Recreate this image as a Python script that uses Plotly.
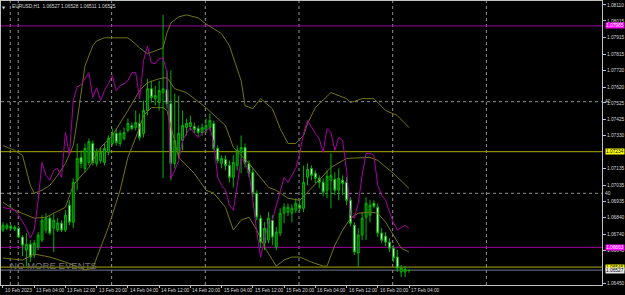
import plotly.graph_objects as go

# ---------------- data ----------------
bar_index = list(range(105))  # 10 Feb 20:00 ... 17 Feb 04:00, H1 bars

opens = [1.06766,1.06777,1.06789,1.06771,1.06777,1.06724,1.06647,1.06682,1.06617,1.06664,
         1.06706,1.06766,1.06837,1.06777,1.06766,1.06807,1.06766,1.06914,1.06813,1.07063,
         1.07200,1.07134,1.07170,1.07283,1.07164,1.07182,1.07170,1.07230,1.07283,1.07343,
         1.07283,1.07313,1.07361,1.07390,1.07378,1.07402,1.07343,1.07480,1.07610,1.07551,
         1.07527,1.07587,1.07604,1.07521,1.07164,1.07224,1.07301,1.07378,1.07384,1.07384,
         1.07372,1.07349,1.07361,1.07378,1.07402,1.07253,1.07164,1.07188,1.07152,1.07081,
         1.07152,1.07230,1.07259,1.07164,1.07111,1.06986,1.06837,1.06688,1.06706,1.06825,
         1.06664,1.06748,1.06867,1.06873,1.06867,1.06885,1.06914,1.06896,1.07081,1.07134,
         1.07105,1.07075,1.07051,1.07004,1.07063,1.07069,1.07004,1.07063,1.07051,1.06944,
         1.06795,1.06629,1.06736,1.06843,1.06855,1.06926,1.06902,1.06748,1.06730,1.06694,
         1.06658,1.06605,1.06516,1.06516,1.06527]
highs = [1.06813,1.06807,1.06801,1.06795,1.06789,1.06736,1.06748,1.06706,1.06706,1.06754,
         1.06855,1.06867,1.06855,1.06861,1.06837,1.06825,1.06885,1.06944,1.07075,1.07283,
         1.07242,1.07283,1.07313,1.07301,1.07253,1.07259,1.07283,1.07331,1.07372,1.07372,
         1.07361,1.07378,1.07432,1.07408,1.07480,1.07462,1.07539,1.07670,1.07658,1.07628,
         1.07658,1.08051,1.07718,1.07718,1.07581,1.07569,1.07480,1.07432,1.07450,1.07408,
         1.07390,1.07402,1.07432,1.07462,1.07420,1.07271,1.07212,1.07212,1.07182,1.07212,
         1.07271,1.07331,1.07283,1.07182,1.07134,1.07004,1.06855,1.06813,1.06873,1.06855,
         1.06783,1.06896,1.06926,1.06926,1.06920,1.06956,1.06944,1.07152,1.07164,1.07152,
         1.07123,1.07093,1.07075,1.07123,1.07224,1.07111,1.07134,1.07093,1.07081,1.06962,
         1.06813,1.06777,1.06873,1.06962,1.06944,1.06944,1.06926,1.06777,1.06754,1.06718,
         1.06676,1.06647,1.06557,1.06551,1.06528]
lows = [1.06754,1.06766,1.06766,1.06760,1.06718,1.06611,1.06551,1.06575,1.06599,1.06647,
        1.06694,1.06748,1.06736,1.06635,1.06754,1.06754,1.06754,1.06795,1.06777,1.07004,
        1.07134,1.07111,1.07152,1.07152,1.07146,1.07164,1.07152,1.07212,1.07271,1.07271,
        1.07265,1.07301,1.07349,1.07361,1.07361,1.07301,1.07319,1.07450,1.07527,1.07509,
        1.07480,1.07075,1.07491,1.07063,1.07134,1.07194,1.07242,1.07331,1.07361,1.07343,
        1.07325,1.07331,1.07343,1.07361,1.07242,1.07164,1.07134,1.07123,1.07051,1.07021,
        1.07123,1.07105,1.07140,1.07081,1.06962,1.06825,1.06658,1.06647,1.06688,1.06676,
        1.06647,1.06730,1.06807,1.06849,1.06813,1.06867,1.06873,1.06873,1.07033,1.07063,
        1.07045,1.07015,1.06968,1.06956,1.06896,1.06974,1.06944,1.06974,1.06914,1.06789,
        1.06617,1.06545,1.06706,1.06706,1.06813,1.06896,1.06724,1.06688,1.06670,1.06635,
        1.06575,1.06516,1.06486,1.06486,1.06511]
closes = [1.06795,1.06795,1.06777,1.06783,1.06724,1.06676,1.06682,1.06605,1.06688,1.06736,
          1.06825,1.06837,1.06748,1.06825,1.06807,1.06766,1.06855,1.06813,1.07051,1.07194,
          1.07164,1.07253,1.07295,1.07170,1.07236,1.07230,1.07253,1.07313,1.07343,1.07289,
          1.07343,1.07349,1.07402,1.07372,1.07408,1.07319,1.07480,1.07610,1.07557,1.07569,
          1.07599,1.07610,1.07521,1.07164,1.07301,1.07343,1.07390,1.07402,1.07408,1.07366,
          1.07349,1.07378,1.07390,1.07420,1.07253,1.07182,1.07194,1.07152,1.07081,1.07170,
          1.07242,1.07259,1.07164,1.07105,1.06986,1.06843,1.06694,1.06777,1.06837,1.06724,
          1.06754,1.06867,1.06902,1.06902,1.06896,1.06926,1.06896,1.07051,1.07128,1.07093,
          1.07075,1.07051,1.06992,1.07087,1.07093,1.07004,1.07075,1.07045,1.06944,1.06807,
          1.06635,1.06736,1.06837,1.06926,1.06914,1.06908,1.06748,1.06706,1.06694,1.06658,
          1.06599,1.06539,1.06539,1.06533,1.06525]

# magenta indicator line, one value per bar
magenta_line = [1.06902,1.06896,1.06890,1.06885,1.06855,1.06813,1.06777,1.06718,1.06766,1.06944,
                1.07170,1.07093,1.07063,1.07123,1.07134,1.07081,1.07349,1.07212,1.07539,1.07622,
                1.07634,1.07670,1.07706,1.07557,1.07616,1.07539,1.07599,1.07640,1.07688,1.07599,
                1.07628,1.07640,1.07658,1.07706,1.07706,1.07551,1.07777,1.07866,1.07765,1.07759,
                1.07789,1.07795,1.07706,1.07075,1.07123,1.07182,1.07301,1.07343,1.07378,1.07343,
                1.07319,1.07343,1.07361,1.07378,1.07283,1.07081,1.07033,1.07004,1.06914,1.06885,
                1.07033,1.07194,1.07170,1.07111,1.06944,1.06754,1.06605,1.06706,1.06813,1.06825,
                1.06914,1.07004,1.07081,1.07051,1.07093,1.07134,1.07224,1.07343,1.07420,1.07378,
                1.07343,1.07313,1.07230,1.07372,1.07349,1.07242,1.07319,1.07301,1.07123,1.06855,
                1.06837,1.06926,1.07093,1.07224,1.07224,1.07212,1.07033,1.06974,1.06944,1.06873,
                1.06813,1.06766,1.06783,1.06795,1.06777]

# Bollinger bands (vertices)
bb_upper_idx = [0,3,5,7,8,10,12,14,16,18,19,20,21,23,24,26,29,32,33,35,37,40,41,42,43,45,47,50,52,54,
                56,58,59,61,62,64,66,69,70,71,73,75,77,78,80,84,88,89,92,95,98,101,104]
bb_upper = [1.07271,1.07242,1.07212,1.07033,1.06986,1.07004,1.07033,1.07093,1.07164,1.07271,
            1.07420,1.07599,1.07747,1.07866,1.07896,1.07914,1.07914,1.07914,1.07896,1.07854,
            1.07819,1.07848,1.07854,1.07944,1.08003,1.08039,1.08051,1.08033,1.07997,1.07968,
            1.07938,1.07866,1.07795,1.07658,1.07509,1.07491,1.07551,1.07491,1.07432,1.07372,
            1.07283,1.07283,1.07331,1.07402,1.07497,1.07587,1.07551,1.07527,1.07551,1.07551,
            1.07480,1.07450,1.07378]
bb_mid_idx = [0,3,8,11,16,18,19,22,25,28,32,35,37,40,42,44,47,52,55,57,59,63,68,70,73,76,78,81,84,88,
              94,96,100,104]
bb_mid = [1.06932,1.06885,1.06837,1.06843,1.06902,1.07033,1.07063,1.07140,1.07259,1.07331,
          1.07480,1.07599,1.07646,1.07670,1.07676,1.07610,1.07587,1.07497,1.07432,1.07390,
          1.07259,1.07164,1.07021,1.07004,1.06956,1.06944,1.06992,1.07063,1.07140,1.07194,
          1.07200,1.07182,1.07105,1.07015]
bb_lower_idx = [0,5,8,12,16,21,23,24,27,30,32,35,36,38,41,42,45,49,52,54,57,59,61,63,65,67,70,72,74,76,
                79,82,83,85,87,89,91,94,96,98,100,102,104]
bb_lower = [1.06599,1.06587,1.06623,1.06605,1.06575,1.06528,1.06539,1.06599,1.06783,1.07004,
            1.07200,1.07378,1.07450,1.07497,1.07497,1.07480,1.07200,1.07105,1.07004,1.06986,
            1.06902,1.06766,1.06825,1.06843,1.06766,1.06664,1.06551,1.06587,1.06605,1.06605,
            1.06575,1.06551,1.06551,1.06676,1.06766,1.06837,1.06867,1.06873,1.06867,1.06813,
            1.06736,1.06658,1.06635]

# horizontal levels
magenta_levels = [1.07985, 1.06663]
yellow_levels = [1.07234, 1.06545]
bid_price = 1.06527

# axis labels
price_ticks = [1.08110,1.08015,1.07915,1.07815,1.07720,1.07620,1.07525,1.07425,1.07330,
               1.07135,1.07035,1.06935,1.06840,1.06740,1.06645,1.06450]
time_tick_idx = [0,8,16,24,32,40,48,56,64,72,80,88,96,104]
time_tick_text = ["10 Feb 2023","13 Feb 04:00","13 Feb 12:00","13 Feb 20:00","14 Feb 04:00",
                  "14 Feb 12:00","14 Feb 20:00","15 Feb 04:00","15 Feb 12:00","15 Feb 20:00",
                  "16 Feb 04:00","16 Feb 12:00","16 Feb 20:00","17 Feb 04:00"]
title_text = "EURUSD,H1  1.06527 1.06528 1.06511 1.06525"

# ---------------- layout constants ----------------
PX_PER_BAR = 3.917
X0 = -2 / PX_PER_BAR
X1 = X0 + 603 / PX_PER_BAR
Y_TOP = 1.081338
Y_BOT = 1.064381
FONT = "Liberation Sans"
SMALL = 4.8

fig = go.Figure()

# grid (dotted)
for px in [9.3, 17.3, 111, 205, 299, 393, 487]:
    fig.add_shape(type="line", xref="x", yref="paper",
                  x0=(px - 2) / PX_PER_BAR, x1=(px - 2) / PX_PER_BAR, y0=0, y1=1,
                  line=dict(color="rgba(180,180,180,0.8)", width=1, dash="dot"), layer="below")
for py in [101, 193]:
    yy = Y_TOP - py * (Y_TOP - Y_BOT) / 285
    fig.add_shape(type="line", xref="paper", yref="y", x0=0, x1=1, y0=yy, y1=yy,
                  line=dict(color="rgba(180,180,180,0.8)", width=1, dash="dot"), layer="below")

# horizontal levels
for lv in magenta_levels:
    fig.add_shape(type="line", xref="paper", yref="y", x0=0, x1=1, y0=lv, y1=lv,
                  line=dict(color="#a000a0", width=1), layer="below")
for lv in yellow_levels:
    fig.add_shape(type="line", xref="paper", yref="y", x0=0, x1=1, y0=lv, y1=lv,
                  line=dict(color="#aaaa00", width=1), layer="below")
fig.add_shape(type="line", xref="paper", yref="y", x0=0, x1=1, y0=bid_price, y1=bid_price,
              line=dict(color="#6e7b8b", width=1), layer="below")

# Bollinger lines
for ix, vals in [(bb_upper_idx, bb_upper), (bb_mid_idx, bb_mid), (bb_lower_idx, bb_lower)]:
    fig.add_trace(go.Scatter(x=ix, y=vals, mode="lines",
                             line=dict(color="#747414", width=1),
                             hoverinfo="skip", showlegend=False))

# magenta indicator
fig.add_trace(go.Scatter(x=bar_index, y=magenta_line, mode="lines",
                         line=dict(color="#a800a8", width=1), hoverinfo="skip", showlegend=False))

# candles
fig.add_trace(go.Candlestick(
    x=bar_index, open=opens, high=highs, low=lows, close=closes,
    increasing=dict(line=dict(color="#00b400", width=1), fillcolor="#005a00"),
    decreasing=dict(line=dict(color="#00b400", width=1), fillcolor="#f0fff0"),
    showlegend=False, hoverinfo="skip"))

annotations = []
# bottom time labels
for i, t in zip(time_tick_idx, time_tick_text):
    annotations.append(dict(x=i, xref="x", y=0, yref="paper", text=t, showarrow=False,
                            xanchor="left", yanchor="top", xshift=0, yshift=-1,
                            font=dict(family=FONT, size=SMALL, color="#d8d8d8")))
# right axis highlight labels
for val, bg, fg in [(magenta_levels[0], "#ff00ff", "#ffffff"), (yellow_levels[0], "#ffff00", "#000000"),
                    (magenta_levels[1], "#ff00ff", "#ffffff"), (yellow_levels[1], "#ffff00", "#000000"),
                    (bid_price, "#e8e8e8", "#000000")]:
    annotations.append(dict(x=1, xref="paper", y=val, yref="y", text=f"{val:.5f}", showarrow=False,
                            xanchor="left", yanchor="middle", xshift=3, bgcolor=bg, borderpad=0,
                            font=dict(family=FONT, size=SMALL, color=fg)))
# small "40" grid marks on the price scale
for py in [101, 193]:
    yy = Y_TOP - py * (Y_TOP - Y_BOT) / 285
    annotations.append(dict(x=1, xref="paper", y=yy, yref="y", text="40", showarrow=False,
                            xanchor="left", yanchor="middle", xshift=1,
                            font=dict(family=FONT, size=SMALL, color="#d8d8d8")))
# title
annotations.append(dict(x=3 / 603, xref="paper", y=1, yref="paper", text="▼", showarrow=False,
                        xanchor="center", yanchor="top", yshift=-2,
                        font=dict(family="DejaVu Sans", size=4, color="#d8d8d8")))
annotations.append(dict(x=9 / 603, xref="paper", y=1, yref="paper", text=title_text, showarrow=False,
                        xanchor="left", yanchor="top", yshift=-1,
                        font=dict(family=FONT, size=SMALL, color="#d8d8d8")))
# NO MORE EVENTS
annotations.append(dict(x=7 / 603, xref="paper", y=(285 - 265) / 285, yref="paper", text="NO MORE EVENTS",
                        showarrow=False, xanchor="left", yanchor="middle",
                        font=dict(family=FONT, size=9.6, color="#707070")))

fig.update_layout(
    width=625, height=295,
    margin=dict(l=0, r=22, t=0, b=10),
    paper_bgcolor="#000000", plot_bgcolor="#000000",
    showlegend=False,
    annotations=annotations,
    xaxis=dict(range=[X0, X1], showgrid=False, zeroline=False, rangeslider=dict(visible=False),
               tickvals=time_tick_idx, ticks="outside", ticklen=2, tickcolor="#c0c0c0",
               showticklabels=False, showline=True, linecolor="#c0c0c0", linewidth=1, mirror=True),
    yaxis=dict(range=[Y_BOT, Y_TOP], side="right", showgrid=False, zeroline=False,
               tickvals=price_ticks, ticktext=[f"{v:.5f}" for v in price_ticks],
               ticks="outside", ticklen=3, tickcolor="#c0c0c0",
               tickfont=dict(family=FONT, size=SMALL, color="#d8d8d8"),
               showline=True, linecolor="#c0c0c0", linewidth=1, mirror=True),
)

fig.write_html("out.html")
